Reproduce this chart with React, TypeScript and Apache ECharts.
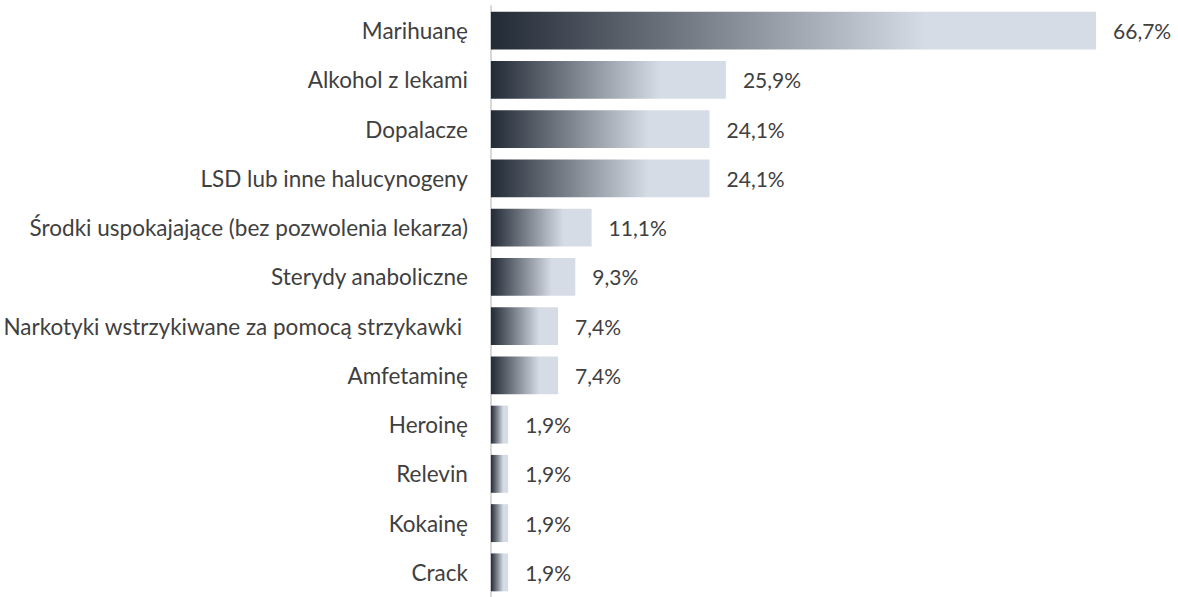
import React, { useEffect, useRef } from "react";
import * as echarts from "echarts";

const categories = [
  "Marihuanę",
  "Alkohol z lekami",
  "Dopalacze",
  "LSD lub inne halucynogeny",
  "Środki uspokajające (bez pozwolenia lekarza)",
  "Sterydy anaboliczne",
  "Narkotyki wstrzykiwane za pomocą strzykawki\u00a0",
  "Amfetaminę",
  "Heroinę",
  "Relevin",
  "Kokainę",
  "Crack",
];
const values = [66.7, 25.9, 24.1, 24.1, 11.1, 9.3, 7.4, 7.4, 1.9, 1.9, 1.9, 1.9];

export default function App() {
  const ref = useRef<HTMLDivElement>(null);
  useEffect(() => {
    document.body.style.margin = "0";
    const chart = echarts.init(ref.current!, null, { renderer: "svg" });
    const font = "Lato, sans-serif";
    chart.setOption({
      animation: false,
      grid: { left: 490, top: 6, width: 636, height: 597, containLabel: false },
      xAxis: {
        type: "value",
        min: 0,
        max: 70,
        show: false,
      },
      yAxis: {
        type: "category",
        data: categories,
        inverse: true,
        axisLine: { show: true, lineStyle: { color: "#d9d9d9", width: 2 } },
        axisTick: { show: false },
        axisLabel: {
          color: "#404040",
          fontSize: 22.5,
          fontFamily: font,
          margin: 23,
        },
      },
      series: [
        {
          type: "bar",
          data: values,
          barCategoryGap: "23%",
          itemStyle: {
            color: new echarts.graphic.LinearGradient(0, 0, 1, 0, [
              { offset: 0, color: "#222a35" },
              { offset: 0.72, color: "#d6dce5" },
              { offset: 1, color: "#d6dce5" },
            ]),
          },
          label: {
            show: true,
            position: "right",
            distance: 17,
            color: "#404040",
            fontSize: 21,
            fontFamily: font,
            formatter: (p: any) => p.value.toFixed(1).replace(".", ",") + "%",
          },
        },
      ],
    });
    return () => chart.dispose();
  }, []);
  return <div ref={ref} style={{ width: 1178, height: 597 }} />;
}
